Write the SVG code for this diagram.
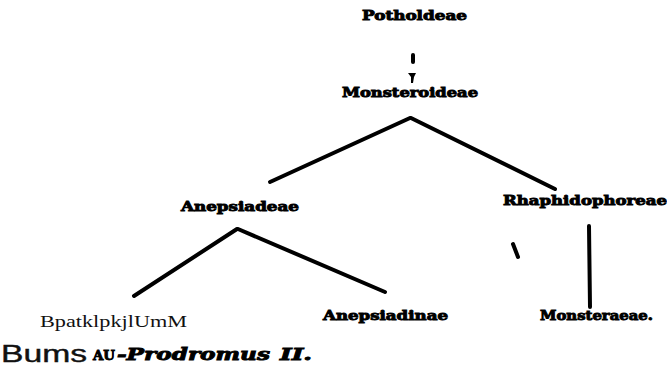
<svg xmlns="http://www.w3.org/2000/svg" width="667" height="368" viewBox="0 0 667 368">
<style>
.h{font-family:"DejaVu Serif","Liberation Serif",serif;font-weight:bold;font-size:13px;fill:#000;stroke:#000;stroke-width:0.9px}
.r{font-family:"Liberation Serif",serif;font-size:16px;fill:#111}
.s{font-family:"Liberation Sans",Arial,sans-serif;font-size:23px;fill:#111;stroke:#111;stroke-width:0.4px}
.i{font-family:"DejaVu Serif","Liberation Serif",serif;font-weight:bold;font-style:italic;font-size:17px;fill:#000;stroke:#000;stroke-width:0.9px}
.e{stroke:#000;stroke-width:4;stroke-linecap:round;fill:none}
</style>
<rect width="667" height="368" fill="#fff"/>
<g id="connectors">
<line class="e" x1="413" y1="55" x2="413" y2="62" stroke-width="3"/>
<path d="M408 73 L416 73 L414 77 L413 83 L411 83 L411 77 Z" fill="#000"/>
<line class="e" x1="410" y1="118" x2="270" y2="182"/>
<line class="e" x1="411" y1="118" x2="555" y2="189"/>
<line class="e" x1="237" y1="229" x2="134" y2="296"/>
<line class="e" x1="238" y1="229" x2="385" y2="292"/>
<line class="e" x1="513" y1="244" x2="518" y2="257" stroke-width="3"/>
<line class="e" x1="589" y1="226" x2="590" y2="307" stroke-width="3.5"/>
</g>
<g id="n-potholdeae"><text class="h" x="362" y="20" textLength="105" lengthAdjust="spacingAndGlyphs">Potholdeae</text></g>
<g id="n-monsteroideae"><text class="h" x="342" y="97" textLength="136" lengthAdjust="spacingAndGlyphs">Monsteroideae</text></g>
<g id="n-anepsiadeae"><text class="h" x="181" y="211" textLength="118" lengthAdjust="spacingAndGlyphs">Anepsiadeae</text></g>
<g id="n-rhaphidophoreae"><text class="h" x="503" y="205" textLength="164" lengthAdjust="spacingAndGlyphs">Rhaphidophoreae</text></g>
<g id="n-bpatk"><text class="r" x="40" y="327" textLength="147" lengthAdjust="spacingAndGlyphs">BpatklpkjlUmM</text></g>
<g id="n-anepsiadinae"><text class="h" x="323" y="320" textLength="125" lengthAdjust="spacingAndGlyphs">Anepsiadinae</text></g>
<g id="n-monstereae"><text class="h" x="540" y="320" textLength="113" lengthAdjust="spacingAndGlyphs">Monsteraeae.</text></g>
<g id="footer">
<text class="s" x="1" y="362" textLength="86" lengthAdjust="spacingAndGlyphs">Bums</text>
<text class="h" x="93" y="360" font-size="12" textLength="22" lengthAdjust="spacingAndGlyphs">AU</text>
<text class="i" x="117" y="360" textLength="153" lengthAdjust="spacingAndGlyphs">-Prodromus</text>
<text class="i" x="280" y="360" textLength="32" lengthAdjust="spacingAndGlyphs">II.</text>
</g>
</svg>
